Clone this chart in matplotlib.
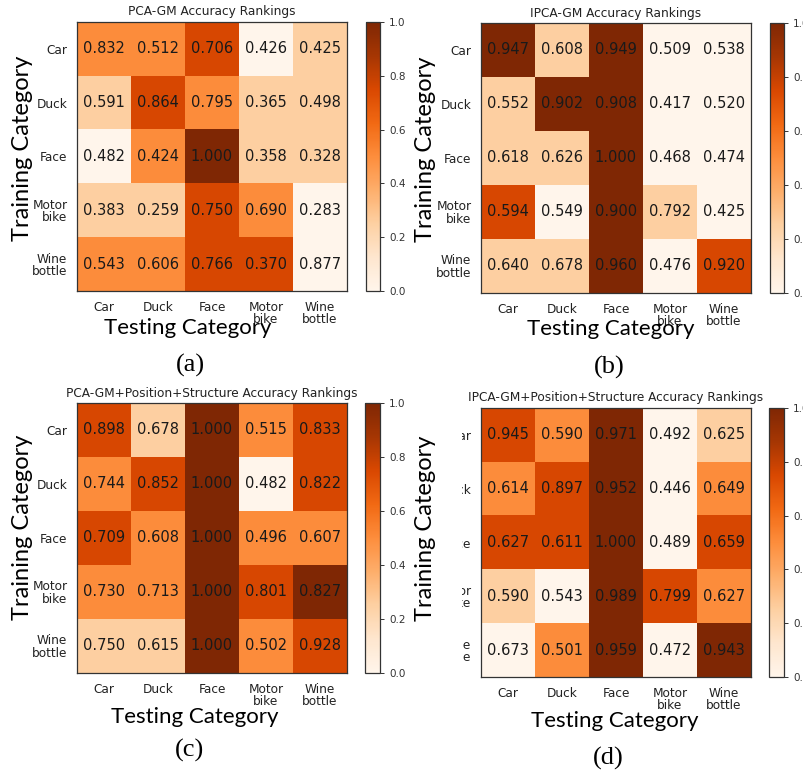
import numpy as np
import matplotlib
matplotlib.use("Agg")
import matplotlib.pyplot as plt
from matplotlib.patches import Rectangle

W, H = 804, 777

categories = ["Car", "Duck", "Face", "Motor\nbike", "Wine\nbottle"]

titles = ["PCA-GM Accuracy Rankings",
          "IPCA-GM Accuracy Rankings",
          "PCA-GM+Position+Structure Accuracy Rankings",
          "IPCA-GM+Position+Structure Accuracy Rankings"]
panel_tags = ["(a)", "(b)", "(c)", "(d)"]

acc_a = [[0.832, 0.512, 0.706, 0.426, 0.425],
         [0.591, 0.864, 0.795, 0.365, 0.498],
         [0.482, 0.424, 1.000, 0.358, 0.328],
         [0.383, 0.259, 0.750, 0.690, 0.283],
         [0.543, 0.606, 0.766, 0.370, 0.877]]
rank_a = [[0.50, 0.50, 0.75, 0.00, 0.25],
          [0.25, 0.75, 0.50, 0.25, 0.25],
          [0.00, 0.50, 1.00, 0.25, 0.25],
          [0.25, 0.25, 0.75, 0.50, 0.00],
          [0.50, 0.50, 0.75, 0.75, 0.00]]

acc_b = [[0.947, 0.608, 0.949, 0.509, 0.538],
         [0.552, 0.902, 0.908, 0.417, 0.520],
         [0.618, 0.626, 1.000, 0.468, 0.474],
         [0.594, 0.549, 0.900, 0.792, 0.425],
         [0.640, 0.678, 0.960, 0.476, 0.920]]
rank_b = [[1.00, 0.25, 1.00, 0.00, 0.00],
          [0.25, 1.00, 1.00, 0.00, 0.00],
          [0.25, 0.25, 1.00, 0.00, 0.00],
          [0.75, 0.00, 1.00, 0.25, 0.00],
          [0.25, 0.25, 1.00, 0.00, 0.75]]

acc_c = [[0.898, 0.678, 1.000, 0.515, 0.833],
         [0.744, 0.852, 1.000, 0.482, 0.822],
         [0.709, 0.608, 1.000, 0.496, 0.607],
         [0.730, 0.713, 1.000, 0.801, 0.827],
         [0.750, 0.615, 1.000, 0.502, 0.928]]
rank_c = [[0.75, 0.25, 1.00, 0.50, 0.75],
          [0.50, 0.75, 1.00, 0.00, 0.75],
          [0.75, 0.50, 1.00, 0.50, 0.50],
          [0.50, 0.50, 1.00, 0.75, 1.00],
          [0.25, 0.25, 1.00, 0.50, 0.75]]

acc_d = [[0.945, 0.590, 0.971, 0.492, 0.625],
         [0.614, 0.897, 0.952, 0.446, 0.649],
         [0.627, 0.611, 1.000, 0.489, 0.659],
         [0.590, 0.543, 0.989, 0.799, 0.627],
         [0.673, 0.501, 0.959, 0.472, 0.943]]
rank_d = [[0.75, 0.50, 1.00, 0.00, 0.25],
          [0.50, 0.75, 1.00, 0.00, 0.50],
          [0.75, 0.75, 1.00, 0.00, 0.75],
          [0.25, 0.00, 1.00, 0.75, 0.50],
          [0.00, 0.50, 1.00, 0.00, 1.00]]

cbar_ticks = [0.0, 0.2, 0.4, 0.6, 0.8, 1.0]

panels = [
    dict(acc=acc_a, rank=rank_a, ax=(77, 22, 347, 291), cb=(366, 22, 380, 291),
         title_y=11, ylab=(23, 148), xlab=(188, 328), tag=(190, 365)),
    dict(acc=acc_b, rank=rank_b, ax=(481, 23, 751, 293), cb=(770, 23, 784, 293),
         title_y=13, ylab=(426, 149), xlab=(611, 329), tag=(609, 367)),
    dict(acc=acc_c, rank=rank_c, ax=(77, 403, 347, 673), cb=(365, 403, 380, 673),
         title_y=393, ylab=(23, 527), xlab=(195, 717), tag=(190, 750)),
    dict(acc=acc_d, rank=rank_d, ax=(481, 408, 751, 677), cb=(769, 408, 784, 677),
         title_y=397, ylab=(426, 528), xlab=(615, 721), tag=(608, 758)),
]

def rect(x0, y0, x1, y1):
    return [x0 / W, 1 - y1 / H, (x1 - x0) / W, (y1 - y0) / H]

fig = plt.figure(figsize=(W / 100, H / 100), dpi=100)
fig.patch.set_facecolor("white")

big_font = ["Lato", "DejaVu Sans"]
serif_font = ["Liberation Serif", "DejaVu Serif"]

for k, p in enumerate(panels):
    ax = fig.add_axes(rect(*p["ax"]))
    rank = np.array(p["rank"])
    acc = np.array(p["acc"])
    im = ax.imshow(rank, cmap="Oranges", vmin=0, vmax=1, aspect="auto")
    for i in range(acc.shape[0]):
        for j in range(acc.shape[1]):
            ax.text(j, i, f"{acc[i, j]:.3f}", ha="center", va="center",
                    fontsize=10.5, color="#1a1a1a")
    ax.set_xticks(range(len(categories)))
    ax.set_yticks(range(len(categories)))
    ax.set_xticklabels(categories, fontsize=8.7, linespacing=0.95, color="#222222")
    ax.set_yticklabels(categories, fontsize=8.7, linespacing=0.95, color="#222222")
    ax.tick_params(length=0, pad=7)
    for s in ax.spines.values():
        s.set_color("#333333")
        s.set_linewidth(0.9)

    cx = (p["ax"][0] + p["ax"][2]) / 2
    fig.text(cx / W, 1 - p["title_y"] / H, titles[k], ha="center", va="center",
             fontsize=8.7, color="#222222")

    cax = fig.add_axes(rect(*p["cb"]))
    cb = fig.colorbar(im, cax=cax, ticks=cbar_ticks)
    cb.ax.tick_params(labelsize=7.5, length=3, width=0.7, colors="#333333")
    cb.set_ticklabels([f"{t:.1f}" for t in cbar_ticks])
    cb.outline.set_edgecolor("#333333")
    cb.outline.set_linewidth(0.9)

    fig.text(p["ylab"][0] / W, 1 - p["ylab"][1] / H, "Training Category",
             rotation=90, ha="center", va="center", fontsize=17, family=big_font)
    fig.text(p["xlab"][0] / W, 1 - p["xlab"][1] / H, "Testing Category",
             ha="center", va="center", fontsize=16, family=big_font)
    fig.text(p["tag"][0] / W, 1 - p["tag"][1] / H, panel_tags[k],
             ha="center", va="center", fontsize=19, family=serif_font)

# mask that hides the left part of the y tick labels in panel (d)
fig.patches.append(Rectangle((437 / W, 1 - 680 / H), 25 / W, 272 / H,
                             transform=fig.transFigure, facecolor="white",
                             edgecolor="none", zorder=10))

fig.savefig("out.png", dpi=100, facecolor="white")
